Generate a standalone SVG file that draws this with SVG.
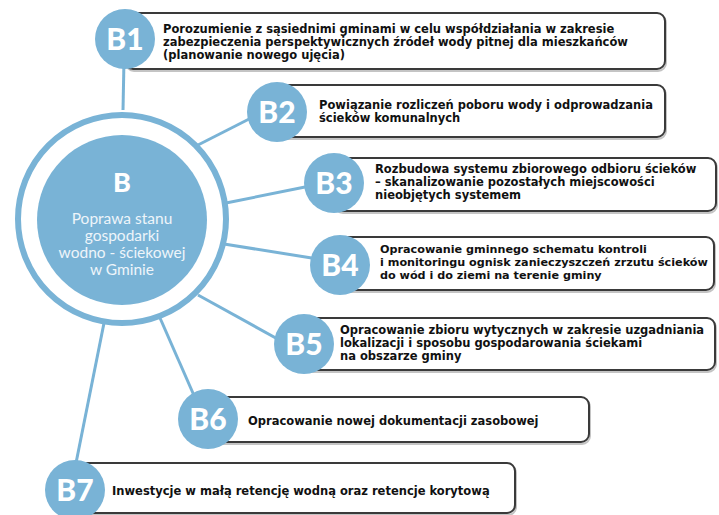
<svg xmlns="http://www.w3.org/2000/svg" width="719" height="515" viewBox="0 0 719 515">
<style>
.con{stroke:#79b3d6;stroke-width:3;fill:none}
.box{fill:#ffffff;stroke:#3a3a3a;stroke-width:2}
.shadow{fill:none;stroke:#c4c4c4;stroke-width:2}
.dot{fill:#79b3d6}
.lbl{font-family:Lato,"Liberation Sans",sans-serif;font-weight:900;font-size:30px;fill:#ffffff;text-anchor:middle}
.txt{font-family:"DejaVu Sans","Liberation Sans",sans-serif;font-weight:bold;font-size:11.5px;fill:#111111}
.main{font-family:Lato,"Liberation Sans",sans-serif;font-size:15.5px;fill:#eef5fa;text-anchor:middle}
</style>
<rect width="719" height="515" fill="#ffffff"/>
<g id="connectors">
<line class="con" x1="123" y1="110" x2="124" y2="60"/>
<line class="con" x1="196" y1="146" x2="255" y2="116"/>
<line class="con" x1="226" y1="203" x2="315" y2="185"/>
<line class="con" x1="224" y1="244" x2="318" y2="259"/>
<line class="con" x1="198" y1="295" x2="283" y2="342"/>
<line class="con" x1="160" y1="318" x2="196" y2="400"/>
<line class="con" x1="104" y1="323" x2="75" y2="468"/>
</g>
<g id="nodeB">
<circle cx="122" cy="219" r="104" fill="#ffffff" stroke="#79b3d6" stroke-width="6"/>
<circle cx="122" cy="220" r="85" class="dot"/>
<text x="122" y="192" class="lbl" style="font-size:27px">B</text>
<text class="main"><tspan x="122" y="224">Poprawa stanu</tspan><tspan x="122" y="241">gospodarki</tspan><tspan x="122" y="258">wodno - ściekowej</tspan><tspan x="122" y="275">w Gminie</tspan></text>
</g>
<g id="nodeB1">
<rect class="shadow" x="126" y="15" width="540" height="56" rx="8"/>
<rect class="box" x="125" y="13" width="540" height="56" rx="8"/>
<circle cx="125" cy="39" r="30" class="dot"/>
<text x="125" y="50" class="lbl">B1</text>
<text class="txt"><tspan x="163" y="33">Porozumienie z sąsiednimi gminami w celu współdziałania w zakresie</tspan><tspan x="163" y="46">zabezpieczenia perspektywicznych źródeł wody pitnej dla mieszkańców</tspan><tspan x="163" y="59">(planowanie nowego ujęcia)</tspan></text>
</g>
<g id="nodeB2">
<rect class="shadow" x="278" y="87" width="388" height="52" rx="8"/>
<rect class="box" x="277" y="85" width="388" height="52" rx="8"/>
<circle cx="277" cy="112" r="30" class="dot"/>
<text x="277" y="123" class="lbl">B2</text>
<text class="txt"><tspan x="319" y="109">Powiązanie rozliczeń poboru wody i odprowadzania</tspan><tspan x="319" y="122">ścieków komunalnych</tspan></text>
</g>
<g id="nodeB3">
<rect class="shadow" x="335" y="160" width="382" height="53" rx="8"/>
<rect class="box" x="334" y="158" width="382" height="53" rx="8"/>
<circle cx="334" cy="183" r="30" class="dot"/>
<text x="334" y="194" class="lbl">B3</text>
<text class="txt"><tspan x="375" y="173">Rozbudowa systemu zbiorowego odbioru ścieków</tspan><tspan x="375" y="186">– skanalizowanie pozostałych miejscowości</tspan><tspan x="375" y="199">nieobjętych systemem</tspan></text>
</g>
<g id="nodeB4">
<rect class="shadow" x="341" y="239" width="374" height="53" rx="8"/>
<rect class="box" x="340" y="237" width="374" height="53" rx="8"/>
<circle cx="340" cy="265" r="30" class="dot"/>
<text x="340" y="276" class="lbl">B4</text>
<text class="txt" style="font-size:11.2px"><tspan x="380" y="253">Opracowanie gminnego schematu kontroli</tspan><tspan x="380" y="266">i monitoringu ognisk zanieczyszczeń zrzutu ścieków</tspan><tspan x="380" y="279">do wód i do ziemi na terenie gminy</tspan></text>
</g>
<g id="nodeB5">
<rect class="shadow" x="305" y="320" width="411" height="52" rx="8"/>
<rect class="box" x="304" y="318" width="411" height="52" rx="8"/>
<circle cx="304" cy="344" r="30" class="dot"/>
<text x="304" y="355" class="lbl">B5</text>
<text class="txt"><tspan x="340" y="334">Opracowanie zbioru wytycznych w zakresie uzgadniania</tspan><tspan x="340" y="347">lokalizacji i sposobu gospodarowania ściekami</tspan><tspan x="340" y="360">na obszarze gminy</tspan></text>
</g>
<g id="nodeB6">
<rect class="shadow" x="209" y="399" width="381" height="45" rx="8"/>
<rect class="box" x="208" y="397" width="381" height="45" rx="8"/>
<circle cx="208" cy="419" r="30" class="dot"/>
<text x="208" y="430" class="lbl">B6</text>
<text x="248" y="425" class="txt">Opracowanie nowej dokumentacji zasobowej</text>
</g>
<g id="nodeB7">
<rect class="shadow" x="76" y="465" width="440" height="50" rx="8"/>
<rect class="box" x="75" y="463" width="440" height="50" rx="8"/>
<circle cx="75" cy="490" r="30" class="dot"/>
<text x="75" y="501" class="lbl">B7</text>
<text x="112" y="495" class="txt">Inwestycje w małą retencję wodną oraz retencje korytową</text>
</g>
</svg>
